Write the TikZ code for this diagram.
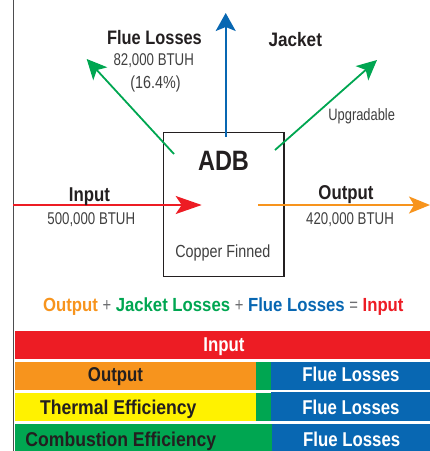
\documentclass[tikz,border=0pt]{standalone}
\usepackage{fontspec}
\setmainfont{Liberation Sans}
\newfontfamily\condreg{Liberation Sans}[FakeStretch=0.78]
\newfontfamily\condregw{Liberation Sans}[FakeStretch=0.82]
\newfontfamily\condbold{Liberation Sans}[FakeStretch=0.84]
\newfontfamily\condboldw{Liberation Sans}[FakeStretch=0.88]
\usetikzlibrary{arrows.meta}
\definecolor{cred}{HTML}{ED1C24}
\definecolor{corange}{HTML}{F7941D}
\definecolor{cgreen}{HTML}{00A651}
\definecolor{cblue}{HTML}{0867B2}
\definecolor{cyellow}{HTML}{FFF200}
\definecolor{txtdark}{HTML}{231F20}
\definecolor{txtgray}{HTML}{3F3F3F}
\definecolor{opgray}{HTML}{6D6E71}
\definecolor{linegray}{HTML}{4D4D4F}
\tikzset{
  bt/.style={font=\condbold\bfseries\fontsize{19.5}{22}\selectfont, text=txtdark, inner sep=0pt, anchor=base},
  rt/.style={font=\condreg\fontsize{17}{20}\selectfont, text=txtgray, inner sep=0pt, anchor=base},
  bart/.style={font=\condbold\bfseries\fontsize{20}{22}\selectfont, inner sep=0pt, anchor=base},
  bartw/.style={font=\condboldw\bfseries\fontsize{20}{22}\selectfont, inner sep=0pt, anchor=base},
  arr/.style={line width=1.8pt},
}
\begin{document}
\begin{tikzpicture}[x=1pt,y=-1pt]
\useasboundingbox (0,0) rectangle (430,451);
% left line
\draw[linegray, line width=1.3pt] (13.3,0) -- (13.3,451);
% box
\node[draw=txtdark, line width=1.3pt, minimum width=120.7, minimum height=144.4, anchor=north west, inner sep=0pt, outer sep=0pt] (box) at (163.3,132.3) {};
\node[bt, font=\condbold\bfseries\fontsize{28}{30}\selectfont] (adb) at (223.5,170) {ADB};
\node[rt, font=\condregw\fontsize{17.5}{20}\selectfont] (cf) at (222.8,257.3) {Copper Finned};
% coordinates
\coordinate (inL) at (13.3,205);
\coordinate (inT) at (201.7,205);
\coordinate (jB) at (225.7,137);
\coordinate (jT) at (225.7,13);
\coordinate (fB) at (174,154);
\coordinate (fT) at (86.7,59);
\coordinate (uB) at (275,150);
\coordinate (uT) at (377,60);
\coordinate (oB) at (258,205);
\coordinate (oT) at (430,205);
% arrows
\draw[arr, cred, -{Stealth[length=26pt,width=18pt,inset=6pt]}] (inL) -- (inT);
\draw[arr, cblue, -{Stealth[length=18pt,width=20pt,inset=4pt]}] (jB) -- (jT);
\draw[arr, cgreen, -{Stealth[length=20pt,width=19pt,inset=5pt]}] (fB) -- (fT);
\draw[arr, cgreen, -{Stealth[length=20pt,width=19pt,inset=5pt]}] (uB) -- (uT);
\draw[arr, corange, -{Stealth[length=21pt,width=17pt,inset=5pt]}] (oB) -- (oT);
% labels
\node[bt] (fl) at (154.5,44) {Flue Losses};
\node[rt] (flv) at (153.7,65) {82,000 BTUH};
\node[rt, font=\condregw\fontsize{17.5}{20}\selectfont] (flp) at (155.5,88.3) {(16.4\%)};
\node[bt, font=\condboldw\bfseries\fontsize{19.5}{22}\selectfont] (jk) at (295.3,46) {Jacket};
\node[rt, font=\condreg\fontsize{16.5}{18}\selectfont] (up) at (361.7,120.7) {Upgradable};
\node[bt, font=\condbold\bfseries\fontsize{20}{22}\selectfont] (inl) at (89.5,201) {Input};
\node[rt] (inv) at (91.3,224) {500,000 BTUH};
\node[bt, font=\condbold\bfseries\fontsize{20}{22}\selectfont] (outl) at (346,199.3) {Output};
\node[rt] (outv) at (350,224) {420,000 BTUH};
% equation
\node[bart, font=\condboldw\bfseries\fontsize{19}{22}\selectfont] (eq) at (223.3,311.7)
  {\textcolor{corange}{Output} {\condreg\mdseries\color{opgray}+} \textcolor{cgreen}{Jacket Losses} {\condreg\mdseries\color{opgray}+} \textcolor{cblue}{Flue Losses} {\condreg\mdseries\color{opgray}=} \textcolor{cred}{Input}};
% bars
\fill[cred] (15,331) rectangle (430,359);
\fill[corange] (15,361.7) rectangle (256,390);
\fill[cgreen] (256,361.7) rectangle (271,390);
\fill[cblue] (271,361.7) rectangle (430,389.5);
\fill[cyellow] (15,392.7) rectangle (256,420.7);
\fill[cgreen] (256,392.7) rectangle (271,420.7);
\fill[cblue] (271,391.7) rectangle (430,421);
\fill[cgreen] (15,423.7) rectangle (272,451);
\fill[cblue] (272,423.7) rectangle (430,451);
\node[bart, text=white] (b1) at (224,351.7) {Input};
\node[bart, text=txtdark] (b2) at (115.5,381.7) {Output};
\node[bart, text=white] (b2f) at (351,381.7) {Flue Losses};
\node[bartw, text=txtdark] (b3) at (118.3,414) {Thermal Efficiency};
\node[bart, text=white] (b3f) at (351,414) {Flue Losses};
\node[bartw, text=txtdark] (b4) at (120.8,446.7) {Combustion Efficiency};
\node[bart, text=white] (b4f) at (351.7,446.7) {Flue Losses};
\end{tikzpicture}
\end{document}
